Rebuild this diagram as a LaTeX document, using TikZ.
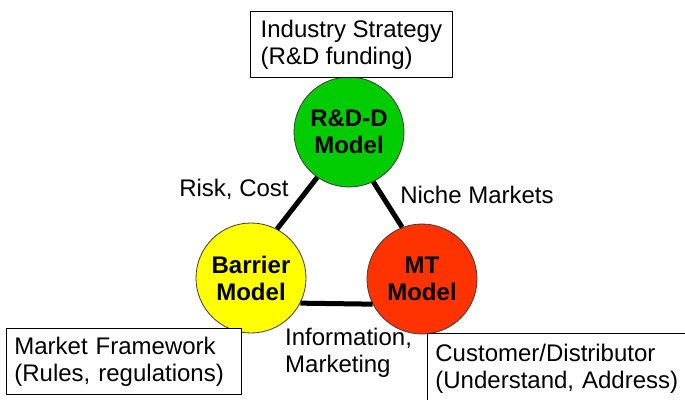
\documentclass[tikz,border=0pt]{standalone}
\usepackage{fontspec}
\setmainfont{Liberation Sans}
\definecolor{rdgreen}{RGB}{0,204,0}
\definecolor{bryellow}{RGB}{255,255,0}
\definecolor{mtred}{RGB}{255,51,0}
\definecolor{rimgray}{RGB}{60,60,60}
\begin{document}
\begin{tikzpicture}[x=1pt,y=-1pt,
  model/.style={circle, draw=rimgray, line width=0.8pt, minimum size=110pt, inner sep=0pt,
                align=center, font=\fontsize{24}{27}\selectfont\bfseries},
  infobox/.style={draw=black, line width=0.8pt, fill=white, align=left, inner sep=0pt,
                  anchor=north west, font=\fontsize{24}{27}\selectfont},
  link/.style={line width=5pt, black},
  lbl/.style={inner sep=0pt, font=\fontsize{24}{27}\selectfont}]
  \clip (0,0) rectangle (685,399);
  \fill[white] (0,0) rectangle (685,399);

  % the three models
  \node[model, fill=rdgreen]  (rd)  at (349,132) {R\&D-D\\Model};
  \node[model, fill=bryellow] (bar) at (251,278) {Barrier\\Model};
  \node[model, fill=mtred]    (mt)  at (422,279) {MT\\Model};

  % links between the models
  \draw[link] (rd.-125) -- (bar.62);
  \draw[link] (rd.-64)  -- (mt.111);
  \draw[link] (bar.-27) -- (mt.207);

  % link labels
  \node[lbl, anchor=base] (riskcost) at (234,196) {Risk, Cost};
  \node[lbl, anchor=base] (niche) at (477,203) {Niche Markets};
  \node[lbl, anchor=north west, align=left] (info) at (285,327.5) {Information,\\Marketing};

  % context boxes
  \node[infobox, minimum width=202pt, minimum height=66pt] (industry) at (250,11)
    {Industry Strategy\\(R\&D funding)};
  \node[infobox, minimum width=235pt, minimum height=66pt, text width=219pt] (market) at (6,328)
    {Market Framework\\(Rules, regulations)};
  \node[infobox, minimum width=266pt, minimum height=70pt, text width=250pt] (customer) at (427,333)
    {Customer/Distributor\\(Understand, Address)};
\end{tikzpicture}
\end{document}
